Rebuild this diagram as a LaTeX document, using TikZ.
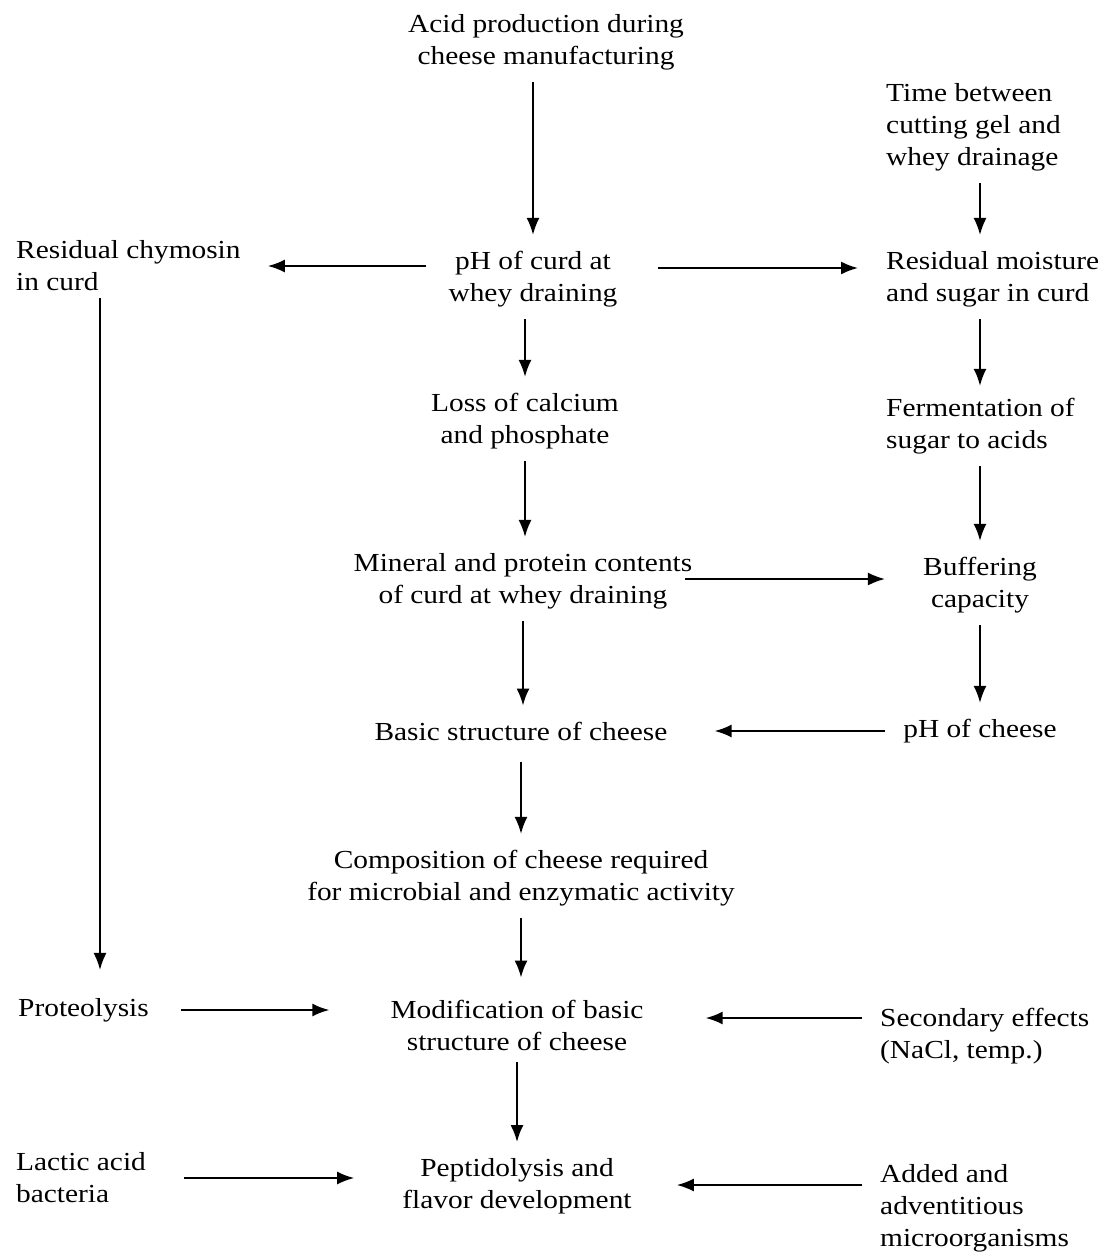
\documentclass[tikz,border=0pt]{standalone}
\usepackage{fontspec}
\setmainfont{Liberation Serif}[FakeStretch=1.13]
\usetikzlibrary{arrows.meta}
\begin{document}
\begin{tikzpicture}[x=1pt,y=1pt,
  lbl/.style={inner sep=0pt, font=\fontsize{26}{32}\selectfont},
  cbox/.style={lbl, align=center},
  lbox/.style={lbl, align=left, anchor=west},
  arr/.style={-{Latex[length=17pt,width=13pt]}, line width=1.9pt},
  varr/.style={arr, shorten <=12pt, shorten >=16pt},
]
\useasboundingbox (0,0) rectangle (1106,-1255);

% factors
\node[cbox] (acid) at (546,-42) {Acid production during\\cheese manufacturing};
\node[lbox] (time) at (886,-127) {Time between\\cutting gel and\\whey drainage};
\node[lbox] (chym) at (16,-266) {Residual chymosin\\in curd};
\node[cbox] (phc) at (533,-279) {pH of curd at\\whey draining};
\node[lbox] (moist) at (886,-279) {Residual moisture\\and sugar in curd};
\node[cbox] (loss) at (525,-421) {Loss of calcium\\and phosphate};
\node[lbox] (ferm) at (886,-426) {Fermentation of\\sugar to acids};
\node[cbox] (mineral) at (523,-581) {Mineral and protein contents\\of curd at whey draining};
\node[cbox] (buff) at (980,-585) {Buffering\\capacity};
\node[cbox] (basic) at (521,-731) {Basic structure of cheese};
\node[cbox] (phch) at (980,-731) {pH of cheese};
\node[cbox] (comp) at (521,-878) {Composition of cheese required\\for microbial and enzymatic activity};
\node[lbox] (prot) at (18,-1010) {Proteolysis};
\node[cbox] (modif) at (517,-1025) {Modification of basic\\structure of cheese};
\node[lbox] (sec) at (880,-1036) {Secondary effects\\(NaCl, temp.)};
\node[lbox] (lactic) at (16,-1178) {Lactic acid\\bacteria};
\node[cbox] (pept) at (517,-1186) {Peptidolysis and\\flavor development};
\node[lbox] (added) at (880,-1208) {Added and\\adventitious\\microorganisms};

% vertical links
\draw[varr] (acid.south -| phc) -- (phc.north);
\draw[varr] (time.south -| phch) -- (moist.north -| phch);
\draw[varr] (phc.south -| loss) -- (loss.north);
\draw[varr, shorten >=12pt] (moist.south -| phch) -- (ferm.north -| phch);
\draw[varr] (loss.south) -- (loss.south |- mineral.north);
\draw[varr] (ferm.south -| buff) -- (buff.north);
\draw[varr] (mineral.south) -- (mineral.south |- basic.north);
\draw[varr] (buff.south) -- (phch.north);
\draw[varr, shorten <=22pt] (basic.south) -- (comp.north);
\draw[varr, shorten >=22pt] (comp.south) -- (comp.south |- modif.north);
\draw[varr] (modif.south) -- (pept.north);
\draw[arr, shorten <=7pt, shorten >=28pt] ([xshift=84pt]chym.south west) -- ([xshift=84pt]chym.south west |- prot.north);

% horizontal links
\draw[arr, shorten <=22pt, shorten >=27pt] (phc.west |- chym.east) -- (chym.east);
\draw[arr, shorten <=40pt, shorten >=28pt] ([yshift=11pt]phc.east) -- ([yshift=11pt]phc.east -| moist.west);
\draw[arr, shorten >=38pt] ([xshift=162pt,yshift=2pt]mineral.center) -- ([yshift=2pt]mineral.center -| buff.west);
\draw[arr, shorten <=18pt, shorten >=47pt] (phch.west) -- (basic.east);
\draw[arr, shorten <=32pt, shorten >=61pt] (prot.east) -- (prot.east -| modif.west);
\draw[arr, shorten <=18pt, shorten >=62pt] ([yshift=18pt]sec.west) -- ([yshift=18pt]sec.west -| modif.east);
\draw[arr, shorten <=38pt, shorten >=48pt] (lactic.east) -- (lactic.east -| pept.west);
\draw[arr, shorten <=18pt, shorten >=45pt] ([yshift=23pt]added.west) -- ([yshift=23pt]added.west -| pept.east);
\end{tikzpicture}
\end{document}
